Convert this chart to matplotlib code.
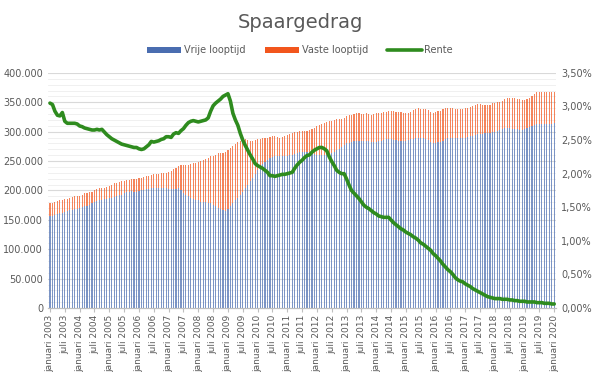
import numpy as np
import matplotlib
matplotlib.use("Agg")
import matplotlib.pyplot as plt
from matplotlib.ticker import FuncFormatter, MultipleLocator

# maandelijkse waarden jan 2003 - jan 2020 (x 1000 euro / procent)
vrije = [
    156, 157, 158, 160, 161, 162, 164, 165, 166, 167, 168, 169,
    170, 172, 173, 174, 176, 178, 180, 182, 183, 184, 185, 186,
    187, 188, 189, 191, 192, 193, 195, 197, 198, 199, 198, 198,
    199, 200, 201, 202, 203, 204, 205, 205, 205, 205, 205, 204,
    203, 203, 203, 203, 204, 200, 196, 193, 190, 187, 185, 184,
    183, 181, 180, 180, 179, 178, 176, 173, 171, 168, 166, 165,
    168, 173, 179, 184, 188, 192, 197, 204, 210, 216, 222, 228,
    235, 240, 245, 249, 252, 255, 257, 258, 258, 259, 258, 258,
    259, 260, 261, 262, 264, 265, 266, 266, 265, 264, 263, 262,
    260, 260, 260, 260, 260, 262, 264, 266, 268, 271, 274, 277,
    280, 281, 283, 284, 285, 285, 285, 285, 285, 284, 283, 283,
    283, 284, 285, 286, 287, 287, 287, 286, 286, 285, 284, 284,
    285, 286, 287, 288, 289, 289, 289, 289, 288, 286, 283, 281,
    281, 282, 283, 285, 287, 289, 289, 289, 289, 289, 290, 290,
    290, 291, 292, 293, 295, 296, 296, 296, 297, 297, 298, 299,
    300, 301, 303, 304, 306, 306, 306, 305, 304, 304, 303, 303,
    304, 306, 308, 310, 312, 313, 313, 313, 313, 313, 313, 313,
    314,
]
vaste = [
    22, 22, 22, 22, 22, 22, 21, 21, 21, 22, 22, 21,
    21, 21, 22, 22, 21, 20, 20, 20, 21, 21, 20, 20,
    21, 22, 23, 22, 22, 23, 21, 20, 20, 20, 22, 22,
    22, 22, 22, 22, 22, 22, 23, 23, 23, 24, 25, 26,
    29, 30, 33, 35, 37, 43, 47, 51, 54, 58, 61, 63,
    65, 69, 71, 73, 76, 80, 83, 88, 92, 95, 97, 100,
    100, 99, 97, 95, 94, 93, 89, 83, 76, 69, 62, 58,
    52, 48, 44, 40, 38, 36, 35, 34, 33, 31, 33, 34,
    35, 36, 37, 37, 36, 36, 35, 36, 37, 39, 41, 44,
    49, 51, 53, 55, 56, 56, 55, 54, 53, 51, 48, 46,
    46, 47, 46, 46, 46, 46, 45, 45, 46, 46, 46, 47,
    48, 47, 47, 47, 47, 48, 49, 49, 48, 49, 49, 48,
    46, 46, 47, 49, 50, 51, 50, 49, 50, 51, 50, 50,
    53, 53, 53, 53, 53, 52, 52, 51, 50, 49, 48, 49,
    50, 50, 50, 51, 51, 51, 51, 50, 48, 48, 48, 49,
    49, 49, 48, 48, 49, 51, 52, 53, 53, 52, 52, 51,
    50, 50, 50, 51, 52, 54, 55, 55, 55, 55, 54, 55,
    54,
]
rente = [
    3.05, 3.03, 2.93, 2.87, 2.86, 2.91, 2.78, 2.75, 2.75, 2.75, 2.75, 2.74,
    2.71, 2.70, 2.68, 2.67, 2.66, 2.65, 2.65, 2.66, 2.65, 2.66, 2.62, 2.58,
    2.55, 2.52, 2.50, 2.48, 2.46, 2.44, 2.43, 2.42, 2.41, 2.40, 2.39, 2.39,
    2.37, 2.36, 2.37, 2.40, 2.43, 2.48, 2.47, 2.48, 2.49, 2.51, 2.52, 2.55,
    2.55, 2.54, 2.59, 2.61, 2.60, 2.64, 2.67, 2.72, 2.76, 2.78, 2.79, 2.78,
    2.77, 2.78, 2.79, 2.80, 2.83, 2.93, 3.01, 3.05, 3.08, 3.11, 3.15, 3.17,
    3.19, 3.08, 2.90, 2.80, 2.72, 2.60, 2.50, 2.42, 2.35, 2.28, 2.22, 2.15,
    2.12, 2.10, 2.08, 2.05, 2.02, 1.97, 1.97, 1.96, 1.97, 1.98, 1.99, 1.99,
    2.00, 2.01, 2.02, 2.08, 2.13, 2.17, 2.20, 2.24, 2.27, 2.28, 2.32, 2.35,
    2.37, 2.39, 2.39, 2.37, 2.34, 2.25, 2.18, 2.12, 2.05, 2.02, 2.00, 2.00,
    1.92, 1.83, 1.75, 1.71, 1.67, 1.63, 1.58, 1.53, 1.50, 1.48, 1.45, 1.42,
    1.40, 1.37, 1.36, 1.35, 1.35, 1.35, 1.31, 1.27, 1.24, 1.21, 1.18, 1.16,
    1.13, 1.11, 1.09, 1.06, 1.04, 1.01, 0.97, 0.95, 0.92, 0.89, 0.86, 0.81,
    0.78, 0.74, 0.70, 0.65, 0.61, 0.57, 0.54, 0.50, 0.45, 0.42, 0.40, 0.39,
    0.36, 0.34, 0.32, 0.29, 0.27, 0.25, 0.23, 0.21, 0.19, 0.17, 0.16, 0.15,
    0.14, 0.14, 0.14, 0.13, 0.13, 0.13, 0.12, 0.12, 0.11, 0.11, 0.10, 0.10,
    0.10, 0.09, 0.09, 0.09, 0.09, 0.08, 0.08, 0.08, 0.07, 0.07, 0.07, 0.06,
    0.06,
]

jaren = list(range(2003, 2021))
maanden = []
for j in jaren:
    maanden.append('januari %d' % j)
    if j < 2020:
        maanden.append('juli %d' % j)

vrije = np.array(vrije) * 1000
vaste = np.array(vaste) * 1000
x = np.arange(len(vrije))

blauw = '#4a6db0'
oranje = '#f2561d'
groen = '#2e8b1e'
grijs = '#595959'

fig = plt.figure(figsize=(6, 3.72), dpi=100)
ax = fig.add_axes([0.08, 0.172, 0.847, 0.632])
ax2 = ax.twinx()

# rasterlijnen
for v in np.arange(10000, 400001, 10000):
    ax.axhline(v, color='#eeeeee', lw=0.6, zorder=0)
for v in np.arange(50000, 400001, 50000):
    ax.axhline(v, color='#d9d9d9', lw=0.8, zorder=0)

ax.bar(x, vrije, width=0.45, color=blauw, alpha=0.72, lw=0, label='Vrije looptijd', zorder=2)
ax.bar(x, vaste, width=0.45, bottom=vrije, color=oranje, alpha=0.72, lw=0, label='Vaste looptijd', zorder=2)
ax2.plot(x, rente, color=groen, lw=2.6, label='Rente', solid_capstyle='round')

ax.set_xlim(-0.8, len(x) - 0.2)
ax.set_ylim(0, 400000)
ax2.set_ylim(0, 3.5)
ax.yaxis.set_major_locator(MultipleLocator(50000))
ax2.yaxis.set_major_locator(MultipleLocator(0.5))
ax.yaxis.set_major_formatter(FuncFormatter(lambda v, p: '{:,.0f}'.format(v).replace(',', '.')))
ax2.yaxis.set_major_formatter(FuncFormatter(lambda v, p: ('%.2f%%' % v).replace('.', ',')))

ax.set_xticks(np.arange(0, len(x), 6))
ax.set_xticklabels(maanden, rotation=90, fontsize=6.5, color=grijs)
ax.tick_params(axis='y', length=0, labelsize=7, colors=grijs)
ax2.tick_params(axis='y', length=0, labelsize=7, colors=grijs)
ax.tick_params(axis='x', length=3, color='#bfbfbf', pad=2)

for a in (ax, ax2):
    for s in ['top', 'left', 'right']:
        a.spines[s].set_visible(False)
    a.spines['bottom'].set_color('#bfbfbf')

h1, l1 = ax.get_legend_handles_labels()
h2, l2 = ax2.get_legend_handles_labels()
leg = fig.legend(h1 + h2, l1 + l2, loc='center', bbox_to_anchor=(0.5, 0.865), ncol=3,
                 frameon=False, fontsize=7, labelcolor=grijs, handlelength=3.5,
                 handleheight=0.5, handletextpad=0.3, columnspacing=2.0)
for p in leg.get_patches():
    p.set_alpha(1)

fig.suptitle('Spaargedrag', y=0.965, fontsize=14, color=grijs)

fig.savefig('out.png', dpi=100)
